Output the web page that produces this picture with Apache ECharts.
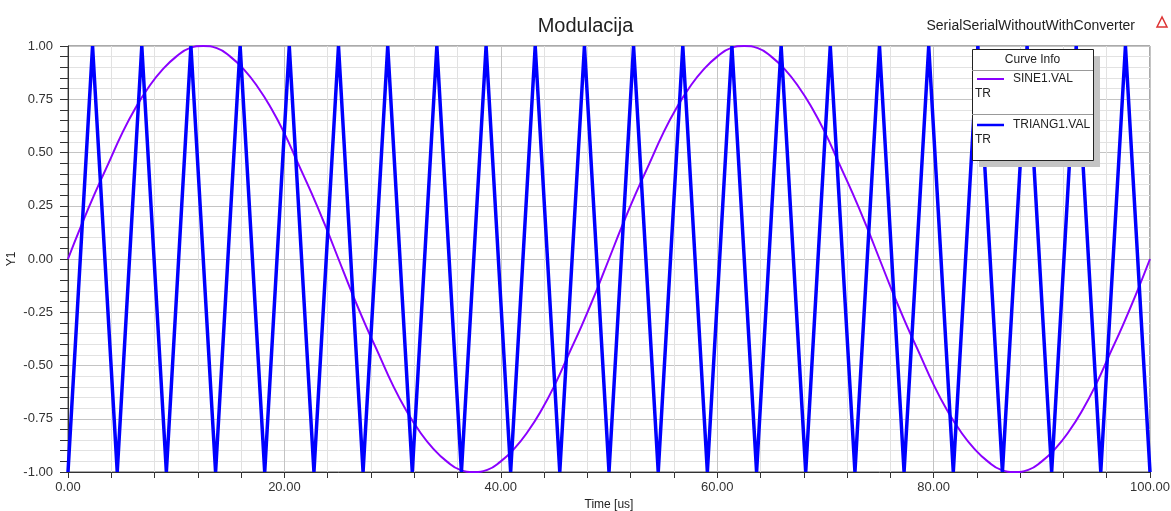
<!DOCTYPE html>
<html>
<head>
<meta charset="utf-8">
<script src="https://cdn.jsdelivr.net/npm/echarts@6/dist/echarts.min.js"></script>
<style>
  html, body { margin: 0; padding: 0; background: #fff; }
  #chart { width: 1171px; height: 511px; }
</style>
</head>
<body>
<div id="chart"></div>
<script>
// sine (SINE1.VAL), sampled every 1.25 us
var sineTime = [];
for (var i = 0; i <= 80; i++) sineTime.push(i * 1.25);
var sineVal = [
  0, 0.16, 0.31, 0.45, 0.59, 0.71, 0.81, 0.89, 0.95, 0.99,
  1, 0.99, 0.95, 0.89, 0.81, 0.71, 0.59, 0.45, 0.31, 0.16,
  0, -0.16, -0.31, -0.45, -0.59, -0.71, -0.81, -0.89, -0.95, -0.99,
  -1, -0.99, -0.95, -0.89, -0.81, -0.71, -0.59, -0.45, -0.31, -0.16,
  0, 0.16, 0.31, 0.45, 0.59, 0.71, 0.81, 0.89, 0.95, 0.99,
  1, 0.99, 0.95, 0.89, 0.81, 0.71, 0.59, 0.45, 0.31, 0.16,
  0, -0.16, -0.31, -0.45, -0.59, -0.71, -0.81, -0.89, -0.95, -0.99,
  -1, -0.99, -0.95, -0.89, -0.81, -0.71, -0.59, -0.45, -0.31, -0.16,
  0
];

// triangle (TRIANG1.VAL) corner points
var triTime = [
  0, 2.27, 4.55, 6.82, 9.09, 11.36, 13.64, 15.91, 18.18, 20.45,
  22.73, 25.00, 27.27, 29.55, 31.82, 34.09, 36.36, 38.64, 40.91, 43.18,
  45.45, 47.73, 50.00, 52.27, 54.55, 56.82, 59.09, 61.36, 63.64, 65.91,
  68.18, 70.45, 72.73, 75.00, 77.27, 79.55, 81.82, 84.09, 86.36, 88.64,
  90.91, 93.18, 95.45, 97.73, 100.00
];
var triVal = [
  -1, 1, -1, 1, -1, 1, -1, 1, -1, 1,
  -1, 1, -1, 1, -1, 1, -1, 1, -1, 1,
  -1, 1, -1, 1, -1, 1, -1, 1, -1, 1,
  -1, 1, -1, 1, -1, 1, -1, 1, -1, 1,
  -1, 1, -1, 1, -1
];

var legendNames = ["SINE1.VAL", "TRIANG1.VAL"];
var legendColors = ["#8a00ff", "#0000ff"];

function zip(xs, ys) {
  return xs.map(function (x, i) { return [x, ys[i]]; });
}

var chart = echarts.init(document.getElementById("chart"));
var font = "Liberation Sans, Arial, sans-serif";

// legend box (Curve Info)
var lx = 972, ly = 49, lw = 121, lh = 111;
var legendEls = [
  { type: "rect", shape: { x: lx + 7, y: ly + 7, width: lw, height: lh }, style: { fill: "#c4c4c4" }, z: 100 },
  { type: "rect", shape: { x: lx + 0.5, y: ly + 0.5, width: lw, height: lh }, style: { fill: "#fff", stroke: "#222", lineWidth: 1 }, z: 101 },
  { type: "text", x: lx + lw / 2, y: ly + 11, style: { text: "Curve Info", font: "12px " + font, fill: "#222", align: "center", verticalAlign: "middle" }, z: 102 },
  { type: "line", shape: { x1: lx, y1: ly + 21.5, x2: lx + lw, y2: ly + 21.5 }, style: { stroke: "#999", lineWidth: 1 }, z: 102 },
  { type: "line", shape: { x1: lx, y1: ly + 65.5, x2: lx + lw, y2: ly + 65.5 }, style: { stroke: "#999", lineWidth: 1 }, z: 102 }
];
legendNames.forEach(function (n, i) {
  var oy = ly + 30 + i * 46;
  legendEls.push(
    { type: "line", shape: { x1: lx + 5, y1: oy, x2: lx + 32, y2: oy }, style: { stroke: legendColors[i], lineWidth: i ? 2.5 : 2 }, z: 102 },
    { type: "text", x: lx + 41, y: oy, style: { text: n, font: "12px " + font, fill: "#222", verticalAlign: "middle" }, z: 102 },
    { type: "text", x: lx + 3, y: oy + 15, style: { text: "TR", font: "12px " + font, fill: "#222", verticalAlign: "middle" }, z: 102 }
  );
});

chart.setOption({
  animation: false,
  title: [
    { text: "Modulacija", left: "center", top: 11, textStyle: { fontFamily: font, fontSize: 20, fontWeight: "normal", color: "#222" } },
    { text: "SerialSerialWithoutWithConverter", right: 31, top: 14, textStyle: { fontFamily: font, fontSize: 14, fontWeight: "normal", color: "#222" } }
  ],
  grid: {
    left: 68, right: 21, top: 46, bottom: 39,
    containLabel: false, outerBoundsMode: "none",
    show: true, borderColor: "#555", borderWidth: 1
  },
  xAxis: {
    type: "value", min: 0, max: 100, interval: 20,
    name: "Time [us]", nameLocation: "middle", nameGap: 27, nameMoveOverlap: false,
    nameTextStyle: { fontFamily: font, fontSize: 12, color: "#222" },
    axisLine: { onZero: false, lineStyle: { color: "#333" } },
    axisTick: { length: 6, lineStyle: { color: "#333" } },
    minorTick: { show: true, splitNumber: 5, length: 6, lineStyle: { color: "#333" } },
    axisLabel: { fontFamily: font, fontSize: 13, color: "#333", margin: 9, formatter: function (v) { return v.toFixed(2); } },
    splitLine: { lineStyle: { color: "#c4c4c4" } },
    minorSplitLine: { show: true, lineStyle: { color: "#e2e2e2" } }
  },
  yAxis: {
    type: "value", min: -1, max: 1, interval: 0.25,
    name: "Y1", nameLocation: "middle", nameGap: 50, nameMoveOverlap: false,
    nameTextStyle: { fontFamily: font, fontSize: 12, color: "#222" },
    axisLine: { show: true, onZero: false, lineStyle: { color: "#333" } },
    axisTick: { show: true, length: 8, lineStyle: { color: "#333" } },
    minorTick: { show: true, splitNumber: 5, length: 8, lineStyle: { color: "#333" } },
    axisLabel: { fontFamily: font, fontSize: 13, color: "#333", margin: 15, formatter: function (v) { return v.toFixed(2); } },
    splitLine: { lineStyle: { color: "#c4c4c4" } },
    minorSplitLine: { show: true, lineStyle: { color: "#e2e2e2" } }
  },
  series: [
    {
      name: "SINE1.VAL", type: "line", data: zip(sineTime, sineVal),
      smooth: true, showSymbol: false,
      lineStyle: { color: legendColors[0], width: 2 }, z: 3
    },
    {
      name: "TRIANG1.VAL", type: "line", data: zip(triTime, triVal),
      showSymbol: false,
      lineStyle: { color: legendColors[1], width: 3.5, join: "miter" }, z: 4
    }
  ],
  graphic: legendEls.concat([
    { type: "polygon", shape: { points: [[1162, 17], [1157, 27], [1167, 27]] }, style: { fill: "none", stroke: "#d33", lineWidth: 1.5 } }
  ])
});
</script>
</body>
</html>
